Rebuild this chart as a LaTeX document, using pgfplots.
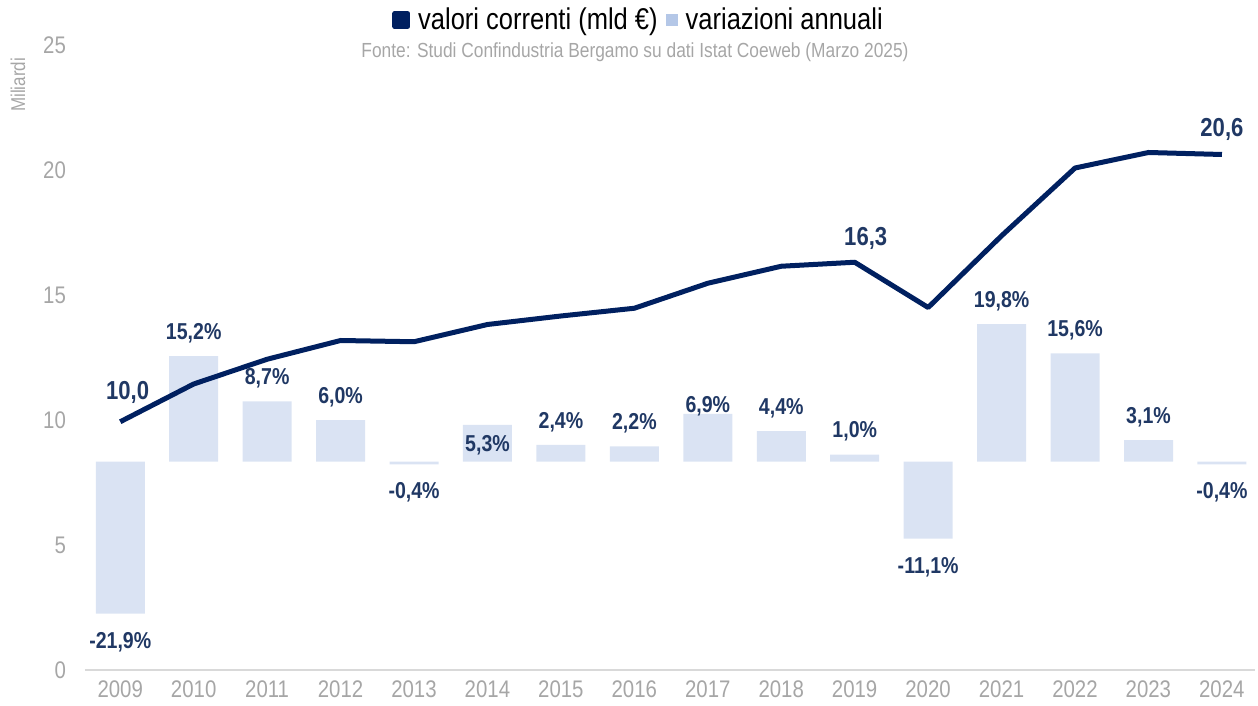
\documentclass[border=0pt]{standalone}
\usepackage{fontspec}
\setmainfont{Liberation Sans}[FakeStretch=0.85]
\usepackage{pgfplots}
\usepackage{pgfplotstable}
\pgfplotsset{compat=1.18}

\definecolor{navy}{HTML}{002060}
\definecolor{labnavy}{HTML}{203864}
\definecolor{barblue}{HTML}{DAE3F3}
\definecolor{legblue}{HTML}{B4C7E7}
\definecolor{tickgray}{HTML}{A6A6A6}
\definecolor{axisgray}{HTML}{D9D9D9}

% year, value (bn EUR), annual change (%), label shift (pt)
\pgfplotstableread{
year val var dy
2009 9.93 -21.9 -2.5
2010 11.44 15.2 0
2011 12.43 8.7 0
2012 13.18 6.0 0
2013 13.13 -0.4 -2.5
2014 13.82 5.3 -22
2015 14.16 2.4 0
2016 14.47 2.2 0
2017 15.47 6.9 -8
2018 16.15 4.4 0
2019 16.31 1.0 0
2020 14.50 -11.1 -2.5
2021 17.37 19.8 0
2022 20.08 15.6 0
2023 20.70 3.1 0
2024 20.62 -0.4 -2.5
}\datatable

\begin{document}
\begin{tikzpicture}
\useasboundingbox (-42.5pt,-18pt) rectangle (586.5pt,335pt);
\pgfplotsset{base/.style={
    scale only axis, width=585pt, height=312.5pt,
    xmin=2008.52, xmax=2024.45,
    at={(0pt,0pt)}, anchor=south west,
    /pgf/number format/assume math mode=true,
}}

% bars on the secondary scale
\begin{axis}[base,
    ymin=-30, ymax=60,
    axis lines=none,
    ybar, bar width=24.5pt,
    nodes near coords={\pgfmathprintnumber[fixed,fixed zerofill,precision=1,use comma]{\pgfplotspointmeta}\%},
    nodes near coords align={vertical},
    visualization depends on={\thisrow{dy} \as \labdy},
    every node near coord/.append style={font=\bfseries\fontsize{11.5}{13}\selectfont,
        text=labnavy, yshift=\labdy pt, inner sep=6.5pt},
]
\addplot[fill=barblue, draw=none] table[x=year, y=var] {\datatable};
\end{axis}

% line on the main scale
\begin{axis}[base,
    ymin=0, ymax=25, ytick={0,5,...,25},
    xtick={2009,...,2024},
    axis x line*=bottom, axis y line*=left,
    y axis line style={draw=none},
    x axis line style={axisgray, line width=1pt, -},
    major tick length=0pt,
    tick label style={font=\fontsize{12}{14}\selectfont, text=tickgray},
    xticklabel style={/pgf/number format/1000 sep={}, yshift=-2pt},
    yticklabel style={xshift=-6pt},
    legend columns=2,
    legend style={at={(0.474,1.04)}, anchor=center, draw=none, fill=none,
        font=\fontsize{15}{17}\selectfont,
        /tikz/every odd column/.append style={column sep=2pt},
        /tikz/every even column/.append style={column sep=2pt}},
]
\addplot[navy, line width=2.5pt, line join=round,
    legend image code/.code={\fill[navy] (-1pt,-3.2pt) rectangle (5.4pt,3.2pt);}]
    table[x=year, y=val] {\datatable};
\addlegendentry{valori correnti (mld €)}
\addlegendimage{legend image code/.code={\fill[legblue] (0pt,-2.8pt) rectangle (5.6pt,2.8pt);}}
\addlegendentry{variazioni annuali}

\begin{scope}[every node/.style={font=\bfseries\fontsize{13}{15}\selectfont, text=labnavy}]
\node at (axis cs:2009.1,9.93) [yshift=14.5pt] {10,0};
\node at (axis cs:2019.15,16.31) [yshift=12pt] {16,3};
\node at (axis cs:2024,20.62) [yshift=12.5pt] {20,6};
\end{scope}
\end{axis}

\node[text=tickgray, font=\fontsize{10.2}{12}\selectfont] at (275pt,309pt)
    {Fonte: Studi Confindustria Bergamo su dati Istat Coeweb (Marzo 2025)};
\node[text=tickgray, rotate=90, font=\fontsize{10}{12}\selectfont] at (-33.5pt,292.5pt) {Miliardi};
\end{tikzpicture}
\end{document}
